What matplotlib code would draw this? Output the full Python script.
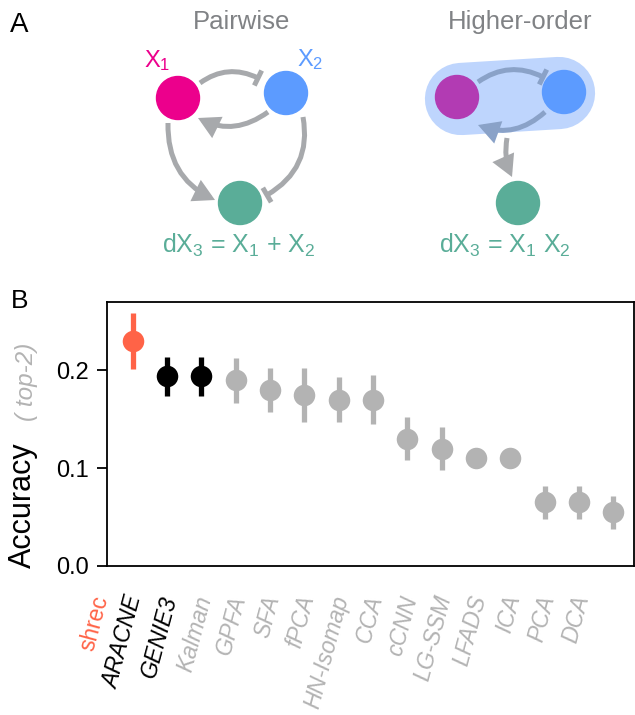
import matplotlib
matplotlib.use("Agg")
import matplotlib.pyplot as plt
from matplotlib.patches import Circle, FancyArrowPatch, ArrowStyle
from matplotlib.transforms import ScaledTranslation


methods = ["shrec", "ARACNE", "GENIE3", "Kalman", "GPFA", "SFA", "fPCA",
           "HN-Isomap", "CCA", "cCNN", "LG-SSM", "LFADS", "ICA", "PCA", "DCA"]
accuracy = [0.230, 0.194, 0.194, 0.190, 0.180, 0.175, 0.170,
            0.170, 0.130, 0.120, 0.110, 0.110, 0.065, 0.065, 0.055]
errors = [0.029, 0.020, 0.020, 0.023, 0.023, 0.028, 0.023,
          0.025, 0.022, 0.022, 0.0, 0.0, 0.017, 0.017, 0.017]
groups = ["ours", "network", "network"] + ["other"] * 12

GROUP_COLORS = {"ours": "#ff6347", "network": "black", "other": "#b3b3b3"}
ARC_GRAY = "#a7a9ac"
PINK = "#ec008c"
BLUE = "#5c9bff"
GREEN = "#5aad98"
PURPLE = "#b23bb3"

plt.rcParams["font.family"] = ["Liberation Sans", "DejaVu Sans"]
plt.rcParams["mathtext.default"] = "regular"


def arc(dax, start, end, rad, kind, color=ARC_GRAY, lw=3.6):
    if kind == "arrow":
        style = ArrowStyle("-|>", head_length=1.0, head_width=0.55)
    else:
        style = ArrowStyle("-[", widthB=0.6, lengthB=0.0)
    p = FancyArrowPatch(start, end, connectionstyle=f"arc3,rad={rad}",
                        arrowstyle=style, mutation_scale=10, lw=lw,
                        color=color, shrinkA=0, shrinkB=0,
                        capstyle="butt", joinstyle="miter")
    dax.add_patch(p)


def draw_diagram(dax):
    # panel A drawn in pixel coordinates
    dax.text(10, 32, "A", fontsize=20, ha="left", va="baseline")
    dax.text(242, 29, "Pairwise", fontsize=18.5, color="#808285",
             ha="center", va="baseline")
    dax.text(520, 29, "Higher-order", fontsize=18.5, color="#808285",
             ha="center", va="baseline")

    # pairwise
    arc(dax, (200, 83), (258, 78), -0.3, "bar")
    arc(dax, (268, 112), (198, 118), -0.3, "arrow")
    arc(dax, (168, 123), (215, 200), 0.32, "arrow")
    arc(dax, (303, 117), (267, 195), -0.35, "bar")
    for (cx, cy), col in [((178, 98), PINK), ((286, 93), BLUE), ((240, 203), GREEN)]:
        dax.add_patch(Circle((cx, cy), 21.5, color=col, zorder=3))
    dax.text(144, 67, "X$_1$", fontsize=17, color=PINK, va="baseline")
    dax.text(297, 66, "X$_2$", fontsize=17, color=BLUE, va="baseline")
    dax.text(239, 253, "dX$_3$ = X$_1$ + X$_2$", fontsize=18, color=GREEN,
             ha="center", va="baseline")

    # higher-order
    dax.plot([461, 559], [99, 93], color="#bed5fd", lw=52,
             solid_capstyle="round", zorder=1)
    arc(dax, (478, 82), (543, 77), -0.3, "bar", color="#8aa2c8")
    arc(dax, (545, 112), (478, 125), -0.3, "arrow", color="#8aa2c8")
    arc(dax, (507, 138), (512, 177), 0.15, "arrow")
    for (cx, cy), col in [((457, 97), PURPLE), ((564, 92), BLUE), ((518, 203), GREEN)]:
        dax.add_patch(Circle((cx, cy), 21.5, color=col, zorder=3))
    dax.text(505, 253, "dX$_3$ = X$_1$ X$_2$", fontsize=18, color=GREEN,
             ha="center", va="baseline")

    # panel B labels
    dax.text(11, 308, "B", fontsize=19, ha="left", va="baseline")
    dax.text(23, 568, "Accuracy", fontsize=22, rotation=90,
             ha="center", va="bottom")
    dax.text(26, 421, "( top-2)", fontsize=17.5, rotation=90, style="italic",
             color="#b3b3b3", ha="center", va="bottom")


def draw_chart(fig, ax):
    for i, (acc, err, grp) in enumerate(zip(accuracy, errors, groups)):
        col = GROUP_COLORS[grp]
        ax.errorbar(i, acc, yerr=err, fmt="o", color=col, ms=15.5,
                    mec="none", elinewidth=3.8, capsize=0)

    ax.set_xlim(-0.75, 14.6)
    ax.set_ylim(0, 0.27)
    ax.set_yticks([0.0, 0.1, 0.2])
    ax.set_yticklabels(["0.0", "0.1", "0.2"])
    ax.tick_params(axis="y", labelsize=17, length=7, width=1.3, pad=6)
    ax.set_xticks([])
    for side in ax.spines.values():
        side.set_linewidth(1.3)

    offset = ScaledTranslation(-0.20, -0.27, fig.dpi_scale_trans)
    for i, (name, grp) in enumerate(zip(methods, groups)):
        ax.text(i, 0, name, transform=ax.get_xaxis_transform() + offset,
                rotation=75, ha="right", va="top", fontsize=16.5,
                color=GROUP_COLORS[grp],
                style="normal" if grp == "ours" else "italic")


def main():
    fig = plt.figure(figsize=(6.35, 7.15), dpi=100)

    dax = fig.add_axes([0, 0, 1, 1])
    dax.set_xlim(0, 635)
    dax.set_ylim(715, 0)
    dax.axis("off")
    draw_diagram(dax)

    ax = fig.add_axes([107 / 635, 1 - 566 / 715, 527 / 635, 264 / 715])
    draw_chart(fig, ax)

    plt.savefig("out.png", dpi=100)
    plt.close()


if __name__ == "__main__":
    main()
